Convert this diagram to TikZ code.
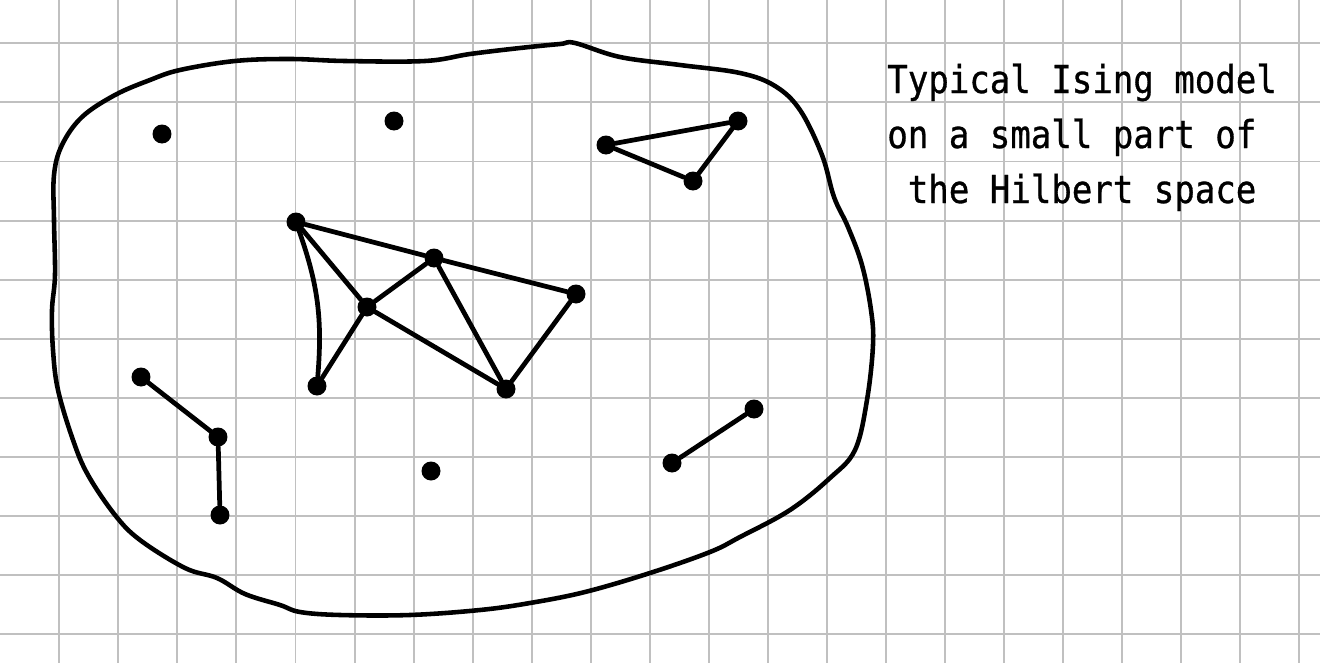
\documentclass[tikz,border=0pt]{standalone}
\usepackage{fontspec}
\newfontfamily\notefont[FakeStretch=0.885, FakeBold=0.8]{DejaVu Sans Mono}
\usepackage{tikz}
\definecolor{gridgray}{RGB}{192,192,192}
\tikzset{
  gridline/.style = {draw=gridgray, line width=1.1pt},
  blob/.style     = {line width=2.6pt, line join=round},
  spin/.style     = {circle, fill=black, inner sep=0pt, minimum size=0.38cm},
  bond/.style     = {line width=2.7pt, line cap=round},
  note/.style     = {inner sep=0pt, align=left, font=\notefont\fontsize{21.9}{31.3}\selectfont},
}
\begin{document}
\begin{tikzpicture}[x=0.02cm, y=-0.02cm]
    \fill[white] (0,0) rectangle (1320,663);
    \useasboundingbox (0,0) rectangle (1320,663);
    % squared paper
    \foreach \k in {0,...,21}
      \draw[gridline] ({59.3+59.05*\k},0) -- ({59.3+59.05*\k},663);
    \foreach \k in {0,...,10}
      \draw[gridline] (0,{43.3+59.1*\k}) -- (1320,{43.3+59.1*\k});
    % the small part of the Hilbert space
    \draw[blob] plot[smooth cycle, tension=0.6] coordinates {
      (575,43) (620,57) (680,65) (740,73) (775,86) (800,110) (822,155)
      (834,197) (848,227) (862,265) (871,310) (873,345) (867,400) (855,450)
      (830,478) (790,510) (740,537) (710,552) (650,573) (585,592) (530,603)
      (480,610) (410,615) (340,615) (300,612) (280,605) (245,594) (217,578)
      (185,568) (140,540) (115,515) (88,475) (73,440) (58,390) (53,350)
      (52,310) (55,275) (54,220) (54,175) (62,145) (82,117) (115,95)
      (150,80) (180,70) (235,61) (290,59) (345,61) (425,61) (470,54)
      (520,48) (560,44)};
    % spins
    \node[spin] (lone1) at (162,134) {};
    \node[spin] (lone2) at (394,121) {};
    \node[spin] (lone3) at (431,471) {};
    \node[spin] (t1) at (606,145) {};
    \node[spin] (t2) at (738,121) {};
    \node[spin] (t3) at (693,181) {};
    \node[spin] (c1) at (296,222) {};
    \node[spin] (c2) at (434,258) {};
    \node[spin] (c3) at (576,294) {};
    \node[spin] (c4) at (367,307) {};
    \node[spin] (c5) at (317,386) {};
    \node[spin] (c6) at (506,389) {};
    \node[spin] (p1) at (141,377) {};
    \node[spin] (p2) at (218,437) {};
    \node[spin] (p3) at (220,515) {};
    \node[spin] (q1) at (672,463) {};
    \node[spin] (q2) at (754,409) {};
    % couplings
    \draw[bond] (t1) -- (t2) -- (t3) -- (t1);
    \draw[bond] (c1) -- (c2) -- (c3) -- (c6);
    \draw[bond] (c1) -- (c4) -- (c2) -- (c6);
    \draw[bond] (c1) to[bend left=12] (c5);
    \draw[bond] (c5) -- (c4) -- (c6);
    \draw[bond] (p1) -- (p2) -- (p3);
    \draw[bond] (q1) -- (q2);
    \node[note, anchor=base west] (caption) at (887,203)
      {Typical Ising model\\on a small part of\\~the Hilbert space};
\end{tikzpicture}
\end{document}
